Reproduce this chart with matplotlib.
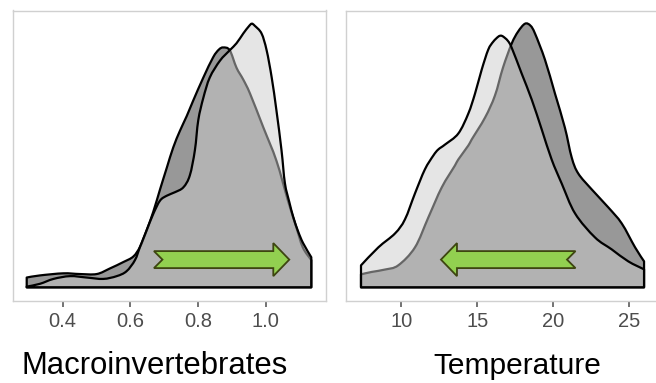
import numpy as np
import matplotlib
matplotlib.use("Agg")
import matplotlib.pyplot as plt
from matplotlib.patches import Polygon, PathPatch
from matplotlib.path import Path
import matplotlib.transforms as mtransforms

plt.rcParams['font.family'] = ['Liberation Sans', 'DejaVu Sans']

# ---------------- data ----------------
# Macroinvertebrates panel
macro_x_light = [0.294, 0.333, 0.373, 0.422, 0.471, 0.520, 0.560, 0.589, 0.614, 0.629,
                 0.648, 0.668, 0.688, 0.708, 0.732, 0.757, 0.776, 0.791, 0.801, 0.816,
                 0.835, 0.865, 0.894, 0.914, 0.934, 0.950, 0.959, 0.968, 0.988, 1.003,
                 1.018, 1.032, 1.047, 1.057, 1.070, 1.082, 1.096, 1.111, 1.135]
macro_y_light = [0.01, 0.05, 0.12, 0.16, 0.14, 0.12, 0.16, 0.23, 0.39, 0.58,
                 0.81, 1.05, 1.24, 1.31, 1.36, 1.43, 1.60, 1.96, 2.39, 2.71,
                 3.00, 3.24, 3.39, 3.49, 3.63, 3.73, 3.77, 3.74, 3.63, 3.39,
                 3.00, 2.53, 1.96, 1.49, 1.22, 1.00, 0.80, 0.63, 0.43]

macro_x_dark = [0.294, 0.333, 0.402, 0.451, 0.501, 0.540, 0.579, 0.609, 0.629, 0.648,
                0.668, 0.688, 0.708, 0.727, 0.747, 0.767, 0.786, 0.816, 0.845, 0.862,
                0.875, 0.894, 0.914, 0.934, 0.954, 0.993, 1.032, 1.066, 1.090, 1.110,
                1.135]
macro_y_dark = [0.14, 0.17, 0.20, 0.19, 0.19, 0.27, 0.36, 0.44, 0.58, 0.81,
                1.08, 1.40, 1.71, 2.00, 2.24, 2.45, 2.67, 3.00, 3.29, 3.40,
                3.43, 3.39, 3.14, 2.97, 2.77, 2.29, 1.81, 1.24, 0.87, 0.57,
                0.39]

# Temperature panel
temp_x_light = [7.35, 8.49, 9.59, 10.24, 10.90, 11.55, 12.11, 12.43, 12.88, 13.75,
                14.41, 14.85, 15.29, 15.72, 16.05, 16.38, 16.55, 16.71, 17.00, 17.26,
                17.92, 18.58, 19.24, 19.89, 20.55, 21.43, 22.74, 23.84, 24.93, 25.97]
temp_y_light = [0.011, 0.020, 0.027, 0.034, 0.047, 0.059, 0.066, 0.069, 0.0715, 0.077,
                0.087, 0.097, 0.109, 0.119, 0.123, 0.1255, 0.1260, 0.1255, 0.1235, 0.120,
                0.107, 0.094, 0.079, 0.064, 0.052, 0.037, 0.025, 0.019, 0.013, 0.009]

temp_x_dark = [7.35, 8.05, 8.93, 9.80, 10.90, 11.78, 12.66, 13.53, 13.75, 14.41,
               14.63, 15.51, 16.16, 16.69, 17.26, 17.68, 18.14, 18.50, 18.80, 19.45,
               20.11, 20.76, 21.21, 21.64, 22.53, 23.62, 24.50, 25.38, 25.97]
temp_y_dark = [0.0065, 0.0077, 0.0089, 0.011, 0.020, 0.035, 0.050, 0.061, 0.064, 0.071,
               0.074, 0.085, 0.096, 0.110, 0.122, 0.128, 0.132, 0.131, 0.127, 0.114,
               0.097, 0.080, 0.065, 0.057, 0.049, 0.040, 0.032, 0.020, 0.013]

macro_ticks = [0.4, 0.6, 0.8, 1.0]
macro_ticklabels = ["0.4", "0.6", "0.8", "1.0"]
temp_ticks = [10, 15, 20, 25]
temp_ticklabels = ["10", "15", "20", "25"]

titles = ["Macroinvertebrates", "Temperature"]

# arrows (tail value, tip value) in data units of each panel
macro_arrow = (0.670, 1.070)
temp_arrow = (21.46, 12.61)

# ---------------- styles ----------------
DARK_FILL = (0.2, 0.2, 0.2, 0.5)
LIGHT_FILL = (0.8, 0.8, 0.8, 0.5)
EDGE = "black"
ARROW_FILL = "#92D050"
ARROW_EDGE = "#3d4510"

W, H = 656, 383
fig = plt.figure(figsize=(W / 100, H / 100), dpi=100)


def axes_px(l, r, t, b):
    return fig.add_axes([l / W, 1 - b / H, (r - l) / W, (b - t) / H])


def density(ax, xs, ys, fc):
    """Closed density outline; the curve is drawn as a smooth Bezier path
    passing through the read points (Catmull-Rom control points)."""
    P = np.column_stack([np.asarray(xs, float), np.asarray(ys, float)])
    n = len(P)
    verts = [(P[0, 0], 0.0), tuple(P[0])]
    codes = [Path.MOVETO, Path.LINETO]
    for i in range(n - 1):
        p0 = P[i - 1] if i > 0 else P[i]
        p1, p2 = P[i], P[i + 1]
        p3 = P[i + 2] if i + 2 < n else P[i + 1]
        c1 = p1 + (p2 - p0) / 6.0
        c2 = p2 - (p3 - p1) / 6.0
        verts += [tuple(c1), tuple(c2), tuple(p2)]
        codes += [Path.CURVE4] * 3
    verts += [(P[-1, 0], 0.0), (P[0, 0], 0.0)]
    codes += [Path.LINETO, Path.CLOSEPOLY]
    patch = PathPatch(Path(verts, codes), facecolor=fc, edgecolor=EDGE,
                      linewidth=1.6, joinstyle="round")
    ax.add_patch(patch)


def notched_arrow(ax, tail, tip, yc=0.141, shaft=0.0293, head=0.057,
                  head_px=16.0, notch_px=8.5):
    x0, x1 = ax.get_xlim()
    axw = ax.get_position().width * W
    per_px = (x1 - x0) / axw
    d = np.sign(tip - tail)
    hl = head_px * per_px * d
    nl = notch_px * per_px * d
    hb = tip - hl
    pts = [(tail, yc + shaft), (hb, yc + shaft), (hb, yc + head), (tip, yc),
           (hb, yc - head), (hb, yc - shaft), (tail, yc - shaft), (tail + nl, yc)]
    trans = mtransforms.blended_transform_factory(ax.transData, ax.transAxes)
    poly = Polygon(pts, closed=True, facecolor=ARROW_FILL, edgecolor=ARROW_EDGE,
                   linewidth=1.3, transform=trans, joinstyle="miter", zorder=5)
    ax.add_patch(poly)


def style(ax, xlim, ymax, ticks, labels):
    ax.set_xlim(*xlim)
    ax.set_ylim(-0.05 * ymax, 1.05 * ymax)
    ax.set_yticks([])
    ax.set_xticks(ticks)
    ax.set_xticklabels(labels)
    ax.tick_params(axis="x", direction="out", length=4.6, width=1.1,
                   color="#4d4d4d", labelcolor="#4d4d4d", labelsize=14.5, pad=3.5)
    for s in ax.spines.values():
        s.set_color("#d0d0d0")
        s.set_linewidth(1.0)


ax1 = axes_px(12.5, 325.5, 10.5, 300.5)
ax2 = axes_px(345.8, 658.2, 10.5, 300.5)

style(ax1, (0.252, 1.177), max(max(macro_y_light), max(macro_y_dark)),
      macro_ticks, macro_ticklabels)
density(ax1, macro_x_dark, macro_y_dark, DARK_FILL)
density(ax1, macro_x_light, macro_y_light, LIGHT_FILL)
notched_arrow(ax1, *macro_arrow)

style(ax2, (6.35, 26.9), max(max(temp_y_light), max(temp_y_dark)),
      temp_ticks, temp_ticklabels)
density(ax2, temp_x_dark, temp_y_dark, DARK_FILL)
density(ax2, temp_x_light, temp_y_light, LIGHT_FILL)
notched_arrow(ax2, *temp_arrow)

fig.text(155 / W, 1 - 366 / H, titles[0], ha="center", va="center",
         fontsize=22.3, color="black")
fig.text(517 / W, 1 - 366 / H, titles[1], ha="center", va="center",
         fontsize=21.5, color="black")

fig.savefig("out.png", dpi=100, facecolor="white")
